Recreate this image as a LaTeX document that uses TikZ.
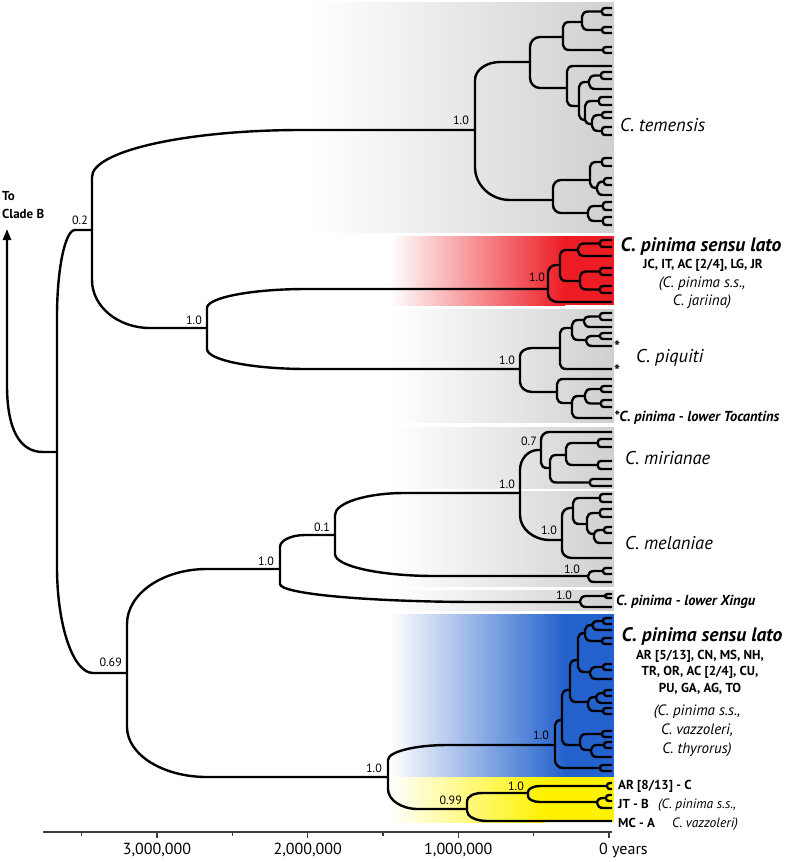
\documentclass[tikz,border=0pt]{standalone}
\usepackage{fontspec}
\setmainfont{PT Sans}
\usetikzlibrary{calc,arrows.meta}
\definecolor{gbox}{RGB}{208,208,208}
\definecolor{cred}{RGB}{237,28,36}
\definecolor{cblue}{RGB}{35,98,205}
\definecolor{cyel}{RGB}{255,242,0}
\definecolor{axc}{RGB}{60,60,60}
\newcommand\PhC[3]{\coordinate (#1) at (#2,#3);}
\newcommand\PhT[2]{\coordinate (#1) at (612,#2);}
\newcommand\PhB[4]{\draw[br] let \p1=(#1), \p2=(#2), \n2={max(-#4,min(#4,\y2-\y1))}, \n3={min(#3,\x2-\x1)} in (\p1) -- (\x1,{\y2-(\n2)}) .. controls (\x1,{\y2-0.448*(\n2)}) and ({\x1+0.448*(\n3)},\y2) .. ({\x1+(\n3)},\y2) -- (\p2);}
\newcommand\PhS[2]{\PhB{#1}{#2}{6}{5}}
\newcommand\PhF[4]{\coordinate (#1) at (#2,{(#3+#4)/2}); \coordinate (#1a) at (612,#3); \coordinate (#1b) at (612,#4); \PhB{#1}{#1a}{3}{2.5}\PhB{#1}{#1b}{3}{2.5}}
\begin{document}
\begin{tikzpicture}[x=1pt,y=-1pt,
  br/.style={line width=2.4pt},
  axisl/.style={line width=1.4pt,draw=axc},
  lab/.style={font=\fontsize{12}{14}\selectfont,inner sep=0,anchor=base east},
  sp/.style={font=\fontsize{18.5}{22}\selectfont\itshape,inner sep=0,anchor=base west},
  big/.style={font=\fontsize{19.5}{23}\selectfont\bfseries\itshape,inner sep=0,anchor=base},
  loc/.style={font=\fontsize{13}{15}\selectfont\bfseries,inner sep=0,anchor=base},
  tag/.style={font=\fontsize{14.5}{17}\selectfont\bfseries\itshape,inner sep=0,anchor=base west},
  syn/.style={font=\fontsize{15}{18}\selectfont\itshape,inner sep=0,anchor=base},
  syns/.style={font=\fontsize{13.5}{16}\selectfont\itshape,inner sep=0,anchor=base},
  star/.style={font=\fontsize{16}{18}\selectfont\bfseries,inner sep=0,anchor=base west},
  axl/.style={font=\fontsize{16}{18}\selectfont,inner sep=0,anchor=base}]
\useasboundingbox (0,0) rectangle (788,862);
% background boxes
\shade[left color=white,right color=gbox] (310,2) rectangle (614,232);
\shade[left color=white,right color=cred] (390,236) rectangle (565,305);
\fill[cred] (564,236) rectangle (614,305);
\shade[left color=white,right color=gbox] (390,309) rectangle (614,422);
\shade[left color=white,right color=gbox] (390,427) rectangle (614,488);
\shade[left color=white,right color=gbox] (390,491) rectangle (614,586);
\shade[left color=white,right color=gbox] (390,590) rectangle (614,610);
\shade[left color=white,right color=cblue] (390,614) rectangle (565,777);
\fill[cblue] (564,614) rectangle (614,777);
\shade[left color=white,right color=cyel] (390,777) rectangle (545,822);
\fill[cyel] (544,777) rectangle (614,822);
% root
\PhC{R}{57}{452}
\PhC{N02}{92}{230}
\PhC{N069}{127}{673}
\PhB{R}{N02}{18}{87}
\PhB{R}{N069}{36}{106}
\coordinate (cladeB) at (7,229);
\draw[br,-{Triangle[length=11pt,width=8pt]}] (R) -- (43,452) .. controls (20,452) and (7,430) .. (7,385) -- (cladeB);
% upper
\PhC{T0}{475}{130}
\PhC{N207}{207}{328}
\PhB{N02}{T0}{210}{47}
\PhB{N02}{N207}{58}{48}
\PhC{R0}{548}{289}
\PhC{P0}{520}{369}
\PhB{N207}{R0}{100}{19}
\PhB{N207}{P0}{100}{20}
% temensis
\PhC{T1}{530}{62}\PhC{T2}{553}{200}
\PhB{T0}{T1}{25}{18}\PhB{T0}{T2}{35}{33}
\PhC{T3}{563}{37}\PhC{T4}{567}{88}
\PhB{T1}{T3}{10}{10}\PhB{T1}{T4}{10}{10}
\PhC{T5}{582}{22}\PhS{T3}{T5}
\PhF{T3f}{603}{47}{53}\PhS{T3}{T3f}
\PhF{T5a}{602}{8}{15}\PhS{T5}{T5a}
\PhF{T5b}{602}{27}{33}\PhS{T5}{T5b}
\PhT{T4a}{66}\PhS{T4}{T4a}
\PhC{T7}{579}{106}\PhS{T4}{T7}
\PhC{T8}{589}{82}\PhC{T9}{585}{120}
\PhS{T7}{T8}\PhS{T7}{T9}
\PhF{T8a}{601}{72}{79}\PhS{T8}{T8a}
\PhT{T8b}{89}\PhS{T8}{T8b}
\PhF{T9a}{599}{97}{105}\PhS{T9}{T9a}
\PhC{T10}{592}{124}\PhS{T9}{T10}
\PhF{T10a}{602}{112}{118}\PhS{T10}{T10a}
\PhF{T10b}{602}{127}{135}\PhS{T10}{T10b}
\PhC{T11}{590}{180}\PhC{T12}{588}{213}
\PhB{T2}{T11}{8}{8}\PhB{T2}{T12}{8}{8}
\PhF{T11a}{602}{158}{166}\PhS{T11}{T11a}
\PhC{T13}{597}{188}\PhS{T11}{T13}
\PhF{T13a}{604}{178}{185}\PhS{T13}{T13a}
\PhT{T13b}{195}\PhS{T13}{T13b}
\PhF{T12a}{603}{202}{210}\PhS{T12}{T12a}
\PhF{T12b}{603}{217}{225}\PhS{T12}{T12b}
% red
\PhC{R1}{560}{265}
\PhB{R0}{R1}{8}{8}
\PhT{R0b}{302}\PhB{R0}{R0b}{10}{8}
\PhC{R2}{578}{250}\PhC{R3}{580}{281}
\PhS{R1}{R2}\PhS{R1}{R3}
\PhF{R2a}{600}{240}{247}\PhS{R2}{R2a}
\PhT{R2b}{256}\PhS{R2}{R2b}
\PhF{R3a}{600}{268}{275}\PhS{R3}{R3a}
\PhF{R3b}{600}{286}{293}\PhS{R3}{R3b}
% piquiti
\PhC{P1}{560}{348}\PhC{P2}{557}{392}
\PhB{P0}{P1}{12}{8}\PhB{P0}{P2}{12}{10}
\PhC{P3}{572}{328}\PhS{P1}{P3}
\PhT{P1b}{369}\PhS{P1}{P1b}
\PhC{P4}{584}{320}\PhC{P5}{586}{340}
\PhS{P3}{P4}\PhS{P3}{P5}
\PhF{P4a}{600}{313}{320}\PhS{P4}{P4a}
\PhT{P4b}{327}\PhS{P4}{P4b}
\PhF{P5a}{600}{333}{339}\PhS{P5}{P5a}
\PhT{P5b}{346}\PhS{P5}{P5b}
\PhT{P2a}{379}\PhS{P2}{P2a}
\PhC{P7}{572}{403}\PhS{P2}{P7}
\PhC{P8}{585}{396}\PhS{P7}{P8}
\PhT{P7b}{418}\PhS{P7}{P7b}
\PhF{P8a}{601}{386}{392}\PhS{P8}{P8a}
\PhF{P8b}{601}{400}{407}\PhS{P8}{P8b}
% lower
\PhC{N280}{280}{569}\PhC{N388}{388}{777}
\PhB{N069}{N280}{80}{55}\PhB{N069}{N388}{80}{50}
\PhC{N01}{335}{535}\PhC{X}{580}{602}
\PhB{N280}{N01}{25}{12}\PhB{N280}{X}{200}{18}
\PhC{M0}{520}{493}\PhC{N1}{588}{576}
\PhB{N01}{M0}{70}{22}\PhB{N01}{N1}{100}{22}
\PhC{Mi}{541}{450}\PhC{Me}{562}{540}
\PhB{M0}{Mi}{18}{20}\PhB{M0}{Me}{30}{25}
% mirianae
\PhT{Mia}{432}\PhB{Mi}{Mia}{8}{8}
\PhC{Mi1}{550}{468}\PhS{Mi}{Mi1}
\PhC{Mi2}{566}{455}\PhS{Mi1}{Mi2}
\PhF{Mi1b}{590}{479}{486}\PhS{Mi1}{Mi1b}
\PhF{Mi2a}{598}{439}{447}\PhS{Mi2}{Mi2a}
\PhF{Mi2b}{598}{461}{469}\PhS{Mi2}{Mi2b}
% melaniae
\PhC{Me1}{573}{508}\PhB{Me}{Me1}{8}{8}
\PhT{Meb}{558}\PhB{Me}{Meb}{10}{8}
\PhF{Me1a}{600}{494}{502}\PhS{Me1}{Me1a}
\PhC{Me2}{587}{524}\PhS{Me1}{Me2}
\PhF{Me2a}{600}{509}{517}\PhS{Me2}{Me2a}
\PhC{Me3}{594}{534}\PhS{Me2}{Me3}
\PhF{Me3a}{604}{527}{533}\PhS{Me3}{Me3a}
\PhT{Me3b}{543}\PhS{Me3}{Me3b}
\PhF{N1a}{603}{568}{574}\PhS{N1}{N1a}
\PhT{N1b}{582}\PhS{N1}{N1b}
\PhF{Xa}{605}{594}{598}\PhS{X}{Xa}
\PhT{Xb}{607}\PhS{X}{Xb}
% blue
\PhC{B0}{555}{745}\PhC{Y0}{467}{809}
\PhB{N388}{B0}{60}{15}\PhB{N388}{Y0}{30}{20}
\PhC{B1}{562}{720}\PhS{B0}{B1}
\PhF{B0b}{600}{765}{771}\PhB{B0}{B0b}{8}{8}
\PhC{B2}{570}{690}\PhC{B3}{580}{745}
\PhS{B1}{B2}\PhS{B1}{B3}
\PhF{B3a}{602}{731}{737}\PhS{B3}{B3a}
\PhC{B4}{591}{750}\PhS{B3}{B4}
\PhF{B4a}{604}{742}{748}\PhS{B4}{B4a}
\PhT{B4b}{757}\PhS{B4}{B4b}
\PhC{B5}{578}{660}\PhC{B6}{588}{702}
\PhS{B2}{B5}\PhS{B2}{B6}
\PhC{B7}{596}{697}\PhS{B6}{B7}
\PhF{B6b}{603}{708}{714}\PhS{B6}{B6b}
\PhF{B7a}{604}{690}{696}\PhS{B7}{B7a}
\PhT{B7b}{703}\PhS{B7}{B7b}
\PhC{B8}{585}{633}\PhC{B9}{590}{672}
\PhS{B5}{B8}\PhS{B5}{B9}
\PhC{B10}{592}{625}\PhS{B8}{B10}
\PhF{B8b}{602}{638}{644}\PhS{B8}{B8b}
\PhF{B10a}{603}{618}{624}\PhS{B10}{B10a}
\PhT{B10b}{630}\PhS{B10}{B10b}
\PhF{B9a}{603}{664}{670}\PhS{B9}{B9a}
\PhT{B9b}{679}\PhS{B9}{B9b}
% yellow
\PhC{Y1}{528}{793}\PhB{Y0}{Y1}{15}{8}
\PhT{Y0b}{821}\PhB{Y0}{Y0b}{20}{10}
\PhF{Y1a}{607}{783}{789}\PhB{Y1}{Y1a}{12}{6}
\PhC{Y2}{597}{802}\PhB{Y1}{Y2}{12}{6}
\PhF{Y2a}{606}{795}{801}\PhS{Y2}{Y2a}
\PhT{Y2b}{808}\PhS{Y2}{Y2b}
% support values
\node[lab] (l02) at ($(N02)+(-4,-6)$) {0.2};
\node[lab] (lT0) at ($(T0)+(-6,-6)$) {1.0};
\node[lab] (l207) at ($(N207)+(-5,-4)$) {1.0};
\node[lab] (lR0) at ($(R0)+(-3,-8)$) {1.0};
\node[lab] (lP0) at ($(P0)+(-5,-5)$) {1.0};
\node[lab] (lMi) at ($(Mi)+(-4,-5)$) {0.7};
\node[lab] (lM0) at ($(M0)+(-5,-5)$) {1.0};
\node[lab] (l01) at ($(N01)+(-5,-4)$) {0.1};
\node[lab] (lMe) at ($(Me)+(-5,-6)$) {1.0};
\node[lab] (lN1) at ($(N1)+(-8,-3)$) {1.0};
\node[lab] (lX) at ($(X)+(-8,-3)$) {1.0};
\node[lab] (l280) at ($(N280)+(-6,-4)$) {1.0};
\node[lab] (l069) at ($(N069)+(-5,-7)$) {0.69};
\node[lab] (lB0) at ($(B0)+(-6,-6)$) {1.0};
\node[lab] (l388) at ($(N388)+(-6,-5)$) {1.0};
\node[lab] (lY0) at ($(Y0)+(-5,-5)$) {0.99};
\node[lab] (lY1) at ($(Y1)+(-4,-3)$) {1.0};
% clade labels
\node[loc,anchor=base west] (toB1) at (2,200) {To};
\node[loc,anchor=base west] (toB2) at (2,218) {Clade B};
\node[sp] (temensis) at (620,131) {C. temensis};
\node[big] (redhead) at (701,251) {C. pinima sensu lato};
\node[loc] (redloc) at (703,268) {JC, IT, AC [2/4], LG, JR};
\node[syn] (redsyn1) at (702,287) {(C. pinima s.s.,};
\node[syn] (redsyn2) at (702,305) {C. jariina)};
\node[star] (st1) at (614,352) {*};
\node[star] (st2) at (614,376) {*};
\node[sp] (piquiti) at (636,362) {C. piquiti};
\node[tag] (tocantins) at (614,421) {*C. pinima - lower Tocantins};
\node[sp] (mirianae) at (625,464) {C. mirianae};
\node[sp] (melaniae) at (625,549) {C. melaniae};
\node[tag] (xingu) at (616,605) {C. pinima - lower Xingu};
\node[big] (bluehead) at (702,641) {C. pinima sensu lato};
\node[loc] (bl1) at (700,659) {AR [5/13], CN, MS, NH,};
\node[loc] (bl2) at (700,675) {TR, OR, AC [2/4], CU,};
\node[loc] (bl3) at (700,692) {PU, GA, AG, TO};
\node[syn] (bs1) at (697,715) {(C. pinima s.s.,};
\node[syn] (bs2) at (697,734) {C. vazzoleri,};
\node[syn] (bs3) at (697,753) {C. thyrorus)};
\node[loc,anchor=base west] (ar) at (618,789) {AR [8/13] - C};
\node[loc,anchor=base west] (jt) at (618,808) {JT - B};
\node[loc,anchor=base west] (mc) at (618,827) {MC - A};
\node[syns] (ys1) at (697,808) {(C. pinima s.s.,};
\node[syns] (ys2) at (705,827) {C. vazzoleri)};
% axis
\draw[axisl] (43,832) -- (612,832);
\foreach \t in {157,307.7,458.3,609} \draw[axisl] (\t,832) -- (\t,838);
\foreach \t in {81.7,232.3,383,533.7} \draw[axisl] (\t,832) -- (\t,836);
\node[axl] (a3) at (157,854) {3,000,000};
\node[axl] (a2) at (307.7,854) {2,000,000};
\node[axl] (a1) at (458.3,854) {1,000,000};
\node[axl,anchor=base west] (a0) at (599,854) {0 years};
\end{tikzpicture}
\end{document}
